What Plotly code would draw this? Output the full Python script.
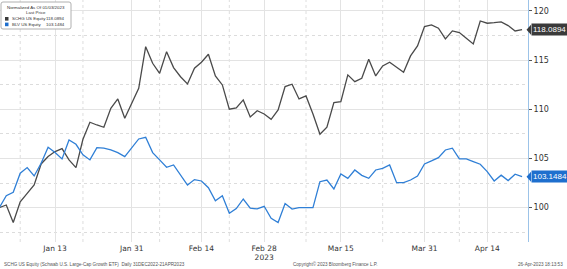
import plotly.graph_objects as go

# Trading days (Bloomberg daily, non-trading days skipped)
dates = [
    "2023-01-03", "2023-01-04", "2023-01-05", "2023-01-06", "2023-01-09", "2023-01-10",
    "2023-01-11", "2023-01-12", "2023-01-13", "2023-01-17", "2023-01-18", "2023-01-19",
    "2023-01-20", "2023-01-23", "2023-01-24", "2023-01-25", "2023-01-26", "2023-01-27",
    "2023-01-30", "2023-01-31", "2023-02-01", "2023-02-02", "2023-02-03", "2023-02-06",
    "2023-02-07", "2023-02-08", "2023-02-09", "2023-02-10", "2023-02-13", "2023-02-14",
    "2023-02-15", "2023-02-16", "2023-02-17", "2023-02-21", "2023-02-22", "2023-02-23",
    "2023-02-24", "2023-02-27", "2023-02-28", "2023-03-01", "2023-03-02", "2023-03-03",
    "2023-03-06", "2023-03-07", "2023-03-08", "2023-03-09", "2023-03-10", "2023-03-13",
    "2023-03-14", "2023-03-15", "2023-03-16", "2023-03-17", "2023-03-20", "2023-03-21",
    "2023-03-22", "2023-03-23", "2023-03-24", "2023-03-27", "2023-03-28", "2023-03-29",
    "2023-03-30", "2023-03-31", "2023-04-03", "2023-04-04", "2023-04-05", "2023-04-06",
    "2023-04-10", "2023-04-11", "2023-04-12", "2023-04-13", "2023-04-14", "2023-04-17",
    "2023-04-18", "2023-04-19", "2023-04-20", "2023-04-21",
]

schg = [
    100.0, 100.27, 98.5, 100.6, 101.46, 102.3, 104.44, 105.2, 105.7, 106.0,
    104.85, 104.07, 106.95, 108.68, 108.4, 108.17, 110.1, 111.05, 109.08, 110.6,
    112.13, 116.36, 114.67, 113.65, 115.85, 114.23, 113.3, 112.57, 114.17, 114.78,
    115.59, 113.38, 112.47, 110.0, 110.13, 110.95, 109.22, 109.85, 109.52, 108.98,
    109.93, 112.3, 112.54, 111.05, 111.35, 109.52, 107.46, 108.17, 110.67, 110.77,
    113.49, 112.8, 113.15, 115.08, 113.38, 114.4, 114.78, 114.27, 113.76, 115.42,
    116.43, 118.4, 118.57, 118.23, 117.14, 117.96, 117.79, 117.21, 116.64, 118.97,
    118.74, 118.8, 118.88, 118.5, 117.95, 118.0894,
]

blv = [
    100.0, 101.22, 101.56, 103.5, 104.07, 103.22, 104.51, 106.14, 105.6, 104.95,
    106.88, 106.44, 105.36, 104.85, 106.1, 106.04, 105.86, 105.59, 105.18, 106.1,
    106.98, 107.15, 105.59, 104.85, 104.1, 104.34, 103.3, 102.3, 102.85, 102.71,
    102.02, 100.7, 101.2, 99.43, 99.9, 100.88, 99.94, 99.87, 100.14, 98.92,
    98.49, 100.42, 99.85, 100.0, 100.0, 100.0, 102.64, 102.81, 101.9, 103.42,
    102.98, 103.83, 103.28, 102.98, 103.83, 104.0, 104.34, 102.54, 102.54, 102.81,
    103.22, 104.44, 104.75, 105.08, 105.86, 106.04, 104.95, 104.95, 104.68, 104.41,
    103.66, 102.71, 103.3, 102.75, 103.4, 103.1484,
]

series_names = ["SCHG US Equity", "BLV US Equity"]
series_colors = ["#4a4a4a", "#2f7fd6"]
label_colors = ["#3a3a3a", "#1e6fce"]

major_ticks = ["2023-01-13", "2023-01-31", "2023-02-14", "2023-02-28",
               "2023-03-15", "2023-03-31", "2023-04-14"]
major_text = ["Jan 13", "Jan 31", "Feb 14", "Feb 28<br>2023", "Mar 15", "Mar 31", "Apr 14"]
minor_ticks = ["2023-01-06", "2023-01-20", "2023-02-06", "2023-02-21",
               "2023-03-08", "2023-03-23", "2023-04-10"]
y_ticks = [100, 105, 110, 115, 120]

W, H = 567, 269
ML, MR, MT, MB = 0, 39, 0, 27
PW, PH = W - ML - MR, H - MT - MB


def px(x):
    return (x - ML) / PW


def py(y):
    return 1 - (y - MT) / PH


FONT = "DejaVu Sans"
SMALL = "Liberation Sans"

fig = go.Figure()
for vals, name, col in zip([schg, blv], series_names, series_colors):
    fig.add_trace(go.Scatter(x=dates, y=vals, mode="lines", name=name,
                             line=dict(color=col, width=1.3), showlegend=False))

shapes = []
# minor dotted vertical gridlines
for d in minor_ticks:
    shapes.append(dict(type="line", xref="x", yref="paper", x0=d, x1=d, y0=0, y1=1,
                       line=dict(color="#dedede", width=1, dash="dot"), layer="below"))

annotations = []
# Last-price labels at right edge
ylo, yhi = 96.51, 121.1
unit_px = PH / (yhi - ylo)
for vals, col in zip([schg, blv], label_colors):
    v = vals[-1]
    annotations.append(dict(
        x=px(530.5), y=v, xref="paper", yref="y", xanchor="left", yanchor="middle",
        text=f"{v:.4f}", showarrow=False, bgcolor=col, borderpad=1,
        font=dict(family=SMALL, size=8, color="white")))
    d = 5 / unit_px
    shapes.append(dict(type="path", xref="paper", yref="y",
                       path=f"M {px(526.5)},{v} L {px(531)},{v + d} L {px(531)},{v - d} Z",
                       fillcolor=col, line=dict(width=0)))

# Legend box (rounded corners)
bx0, bx1, by0, by1, r = 1, 71, 2, 29, 2
legend_path = (
    f"M {px(bx0 + r)},{py(by0)} L {px(bx1 - r)},{py(by0)} "
    f"Q {px(bx1)},{py(by0)} {px(bx1)},{py(by0 + r)} L {px(bx1)},{py(by1 - r)} "
    f"Q {px(bx1)},{py(by1)} {px(bx1 - r)},{py(by1)} L {px(bx0 + r)},{py(by1)} "
    f"Q {px(bx0)},{py(by1)} {px(bx0)},{py(by1 - r)} L {px(bx0)},{py(by0 + r)} "
    f"Q {px(bx0)},{py(by0)} {px(bx0 + r)},{py(by0)} Z"
)
shapes.append(dict(type="path", xref="paper", yref="paper", path=legend_path,
                   fillcolor="white", line=dict(color="#b0b0b0", width=1)))
leg_font = dict(family=SMALL, size=4.4, color="#333333")
annotations.append(dict(x=px(36), y=py(7), xref="paper", yref="paper",
                        text="Normalized As Of 01/03/2023", showarrow=False,
                        font=leg_font, xanchor="center", yanchor="middle"))
annotations.append(dict(x=px(36), y=py(12.7), xref="paper", yref="paper",
                        text="Last Price", showarrow=False,
                        font=leg_font, xanchor="center", yanchor="middle"))
for i, (vals, name, col) in enumerate(zip([schg, blv], series_names, label_colors)):
    yy = 18.8 + i * 5.6
    shapes.append(dict(type="rect", xref="paper", yref="paper", x0=px(5), x1=px(8.5),
                       y0=py(yy + 1.8), y1=py(yy - 1.8), fillcolor=col, line=dict(width=0)))
    annotations.append(dict(x=px(9.5), y=py(yy), xref="paper", yref="paper",
                            text=name, showarrow=False, font=leg_font,
                            xanchor="left", yanchor="middle"))
    annotations.append(dict(x=px(67), y=py(yy), xref="paper", yref="paper",
                            text=f"{vals[-1]:.4f}", showarrow=False, font=leg_font,
                            xanchor="right", yanchor="middle"))

# Footer
foot_font = dict(family=SMALL, size=4.6, color="#555555")
annotations.append(dict(x=px(2), y=py(264), xref="paper", yref="paper", xanchor="left",
                        yanchor="middle", showarrow=False, font=foot_font,
                        text="SCHG US Equity (Schwab U.S. Large-Cap Growth ETF)  Daily 31DEC2022-21APR2023"))
annotations.append(dict(x=px(335), y=py(264), xref="paper", yref="paper", xanchor="center",
                        yanchor="middle", showarrow=False, font=foot_font,
                        text="Copyright© 2023 Bloomberg Finance L.P."))
annotations.append(dict(x=px(565), y=py(264), xref="paper", yref="paper", xanchor="right",
                        yanchor="middle", showarrow=False, font=foot_font,
                        text="26-Apr-2023 18:13:53"))

fig.update_layout(
    width=W, height=H,
    margin=dict(l=ML, r=MR, t=MT, b=MB, pad=0),
    paper_bgcolor="white", plot_bgcolor="white",
    shapes=shapes, annotations=annotations,
    xaxis=dict(type="category", range=[0.1, 75.85], tickmode="array",
               tickvals=major_ticks, ticktext=major_text, showgrid=True,
               gridcolor="#e3e3e3", gridwidth=1, ticks="", showline=False,
               zeroline=False, tickfont=dict(family=FONT, size=7.5, color="#333333")),
    yaxis=dict(side="right", range=[ylo, yhi], tickmode="array", tickvals=y_ticks,
               showgrid=True, gridcolor="#e3e3e3", gridwidth=1,
               ticks="outside", ticklen=3, tickcolor="#555555",
               showline=True, linecolor="#9cc3e8", linewidth=1, zeroline=False,
               tickfont=dict(family=FONT, size=8, color="#333333"),
               minor=dict(dtick=2.5, tick0=97.5, showgrid=True, gridcolor="#dcdcdc",
                          griddash="dot", ticks="")),
)

fig.write_html("out.html")
